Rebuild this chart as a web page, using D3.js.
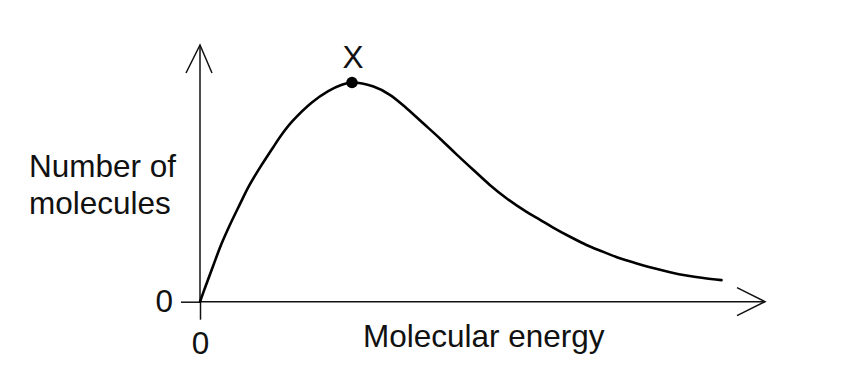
<!DOCTYPE html>
<html>
<head>
<meta charset="utf-8">
<script src="https://cdn.jsdelivr.net/npm/d3@7"></script>
<style>
  body { margin: 0; background: #fff; }
  text { font-family: "Liberation Sans", Arial, sans-serif; fill: #111; }
</style>
</head>
<body>
<div class="graf"></div>
<script>
// data (arbitrary units)
const energy = [0, 0.11, 0.23, 0.37, 0.52, 0.70, 0.87, 1.08, 1.29, 1.46, 1.64, 1.98, 2.27, 2.51, 2.69,
                3.07, 3.36, 3.66, 3.95, 4.25, 4.54, 4.84, 5.13, 5.43, 5.78, 6.02, 6.25, 6.55, 6.84,
                7.14, 7.43, 7.73, 8.02, 8.32, 8.61, 8.91, 9.23];
const molecules = [0, 0.67, 1.38, 2.20, 2.95, 3.77, 4.52, 5.29, 6.00, 6.55, 7.04, 7.76, 8.20, 8.45, 8.54,
                   8.38, 8.06, 7.53, 6.95, 6.35, 5.74, 5.13, 4.55, 4.02, 3.50, 3.19, 2.89, 2.53, 2.21,
                   1.94, 1.69, 1.49, 1.31, 1.15, 1.02, 0.92, 0.84];
const peakEnergy = [2.69];
const peakMolecules = [8.54];
const peakLabels = ['X'];
const xTicks = [0];
const yTicks = [0];
const yLabel = ['Number of', 'molecules'];
const xLabel = 'Molecular energy';

main()
function main(){
    const width = 849, height = 376;
    const FONT = 31.5;

    let svg = d3.select('.graf')
        .append('svg')
        .attr('width', width)
        .attr('height', height);

    // scales -> domain end is the arrow tip
    let x = d3.scaleLinear().domain([0, 10]).range([200, 765]);
    let y = d3.scaleLinear().domain([0, 10]).range([301.7, 45]);

    // axis ticks + "0" labels
    let gx = svg.append('g')
        .attr('transform', `translate(0,${y(0)})`)
        .call(d3.axisBottom(x).tickValues(xTicks).tickSize(18).tickPadding(12).tickFormat(d3.format('d')));
    let gy = svg.append('g')
        .attr('transform', `translate(${x(0)},0)`)
        .call(d3.axisLeft(y).tickValues(yTicks).tickSize(19).tickPadding(8).tickFormat(d3.format('d')));

    [gx, gy].forEach(g => {
        g.select('.domain').remove();
        g.attr('font-family', null).attr('font-size', null);
        g.selectAll('line').attr('stroke', '#111').attr('stroke-width', 1.5);
        g.selectAll('text').style('font-size', FONT + 'px').attr('fill', '#111');
    });

    // axis lines with open arrow heads
    let axes = svg.append('g')
        .attr('stroke', '#111')
        .attr('stroke-width', 1.5)
        .attr('fill', 'none');
    axes.append('line')
        .attr('x1', x(0)).attr('y1', y(0))
        .attr('x2', x(10)).attr('y2', y(0));
    axes.append('line')
        .attr('x1', x(0)).attr('y1', y(0))
        .attr('x2', x(0)).attr('y2', y(10));
    axes.append('path')
        .attr('d', `M${x(10) - 28},${y(0) - 14}L${x(10)},${y(0)}L${x(10) - 28},${y(0) + 14}`);
    axes.append('path')
        .attr('d', `M${x(0) - 14},${y(10) + 28}L${x(0)},${y(10)}L${x(0) + 12},${y(10) + 28}`);

    // curve
    let line = d3.line()
        .x((d, i) => x(energy[i]))
        .y(d => y(d))
        .curve(d3.curveCatmullRom.alpha(0.5));
    svg.append('path')
        .datum(molecules)
        .attr('d', line)
        .attr('fill', 'none')
        .attr('stroke', '#000')
        .attr('stroke-width', 2.6)
        .attr('stroke-linecap', 'round');

    // peak dot + label
    svg.selectAll('.peak')
        .data(peakEnergy)
        .join('circle')
        .attr('class', 'peak')
        .attr('cx', d => x(d))
        .attr('cy', (d, i) => y(peakMolecules[i]))
        .attr('r', 5.8)
        .attr('fill', '#000');
    svg.selectAll('.peakLabel')
        .data(peakLabels)
        .join('text')
        .attr('class', 'peakLabel')
        .attr('x', (d, i) => x(peakEnergy[i]) + 1)
        .attr('y', (d, i) => y(peakMolecules[i]) - 14)
        .attr('text-anchor', 'middle')
        .style('font-size', FONT + 'px')
        .text(d => d);

    // axis titles
    svg.append('text')
        .attr('x', 29)
        .attr('y', 176.5)
        .style('font-size', FONT + 'px')
        .selectAll('tspan')
        .data(yLabel)
        .join('tspan')
        .attr('x', 29)
        .attr('dy', (d, i) => i ? 37.5 : 0)
        .text(d => d);

    svg.append('text')
        .attr('x', 363)
        .attr('y', 346.5)
        .style('font-size', FONT + 'px')
        .text(xLabel);
}
</script>
</body>
</html>
